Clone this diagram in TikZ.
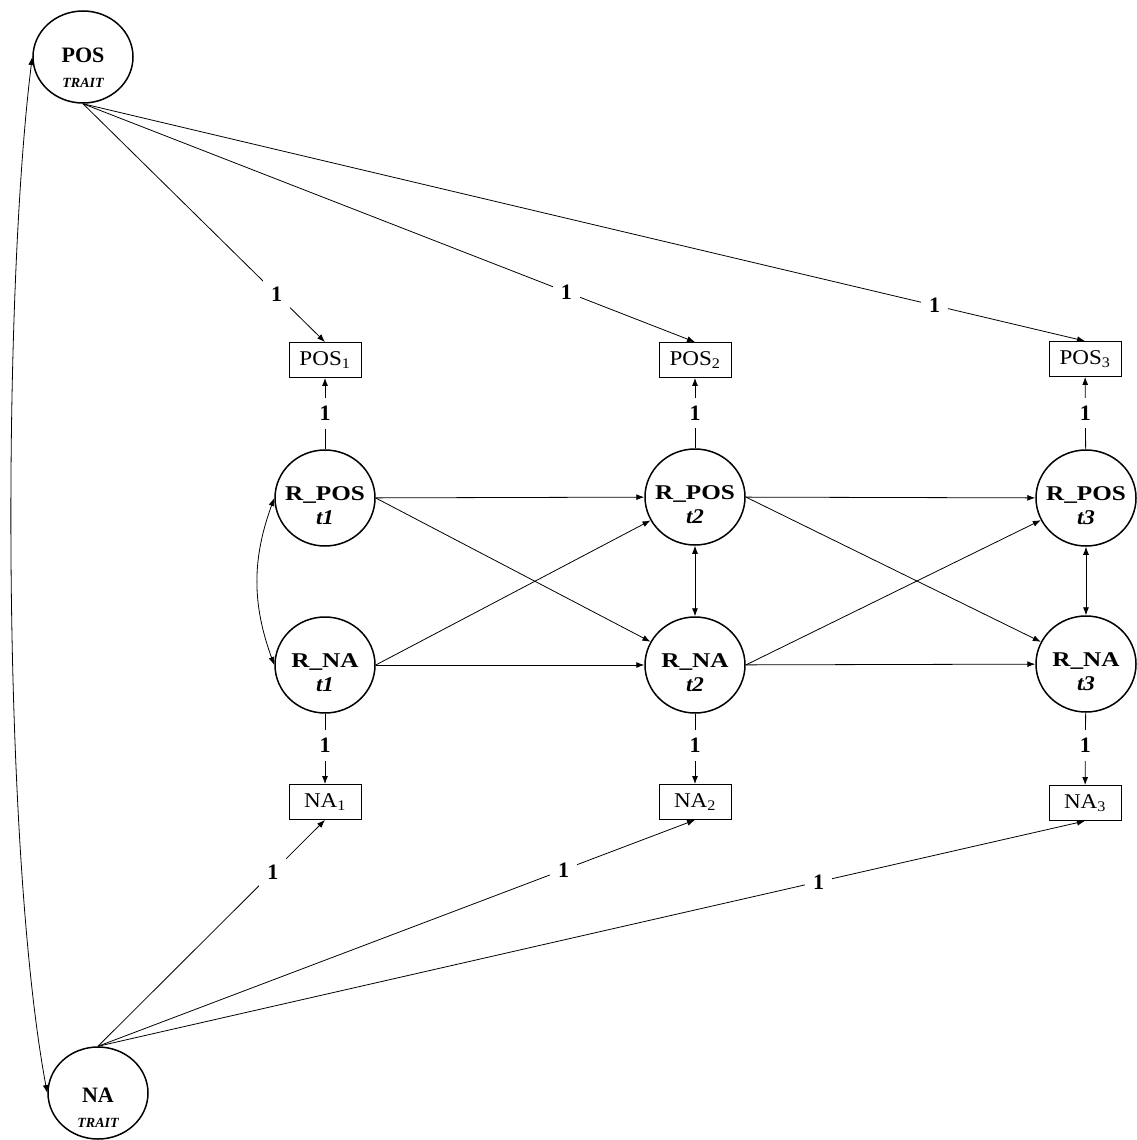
\documentclass[tikz,border=0pt]{standalone}
\usepackage{fontspec}
\usepackage{graphicx}
\setmainfont{Liberation Serif}
\usetikzlibrary{arrows.meta,shapes.geometric}
\newcommand{\latxt}[2]{\rule{0pt}{29pt}\scalebox{1.2}[1]{\textbf{#1}}\\[-1pt]\scalebox{1.1}[1]{\textbf{\textit{#2}}}}
\newcommand{\obtxt}[2]{\scalebox{1.1}[1]{#1\textsubscript{#2}}}
\begin{document}
\begin{tikzpicture}[x=1pt,y=-1pt,
  lat/.style={ellipse, draw, line width=1.5pt, minimum width=100pt, minimum height=96pt, inner sep=-10pt, align=center, font=\fontsize{21}{25}\selectfont},
  trait/.style={ellipse, draw, line width=1.5pt, minimum width=100pt, minimum height=92pt},
  bigtxt/.style={anchor=base, inner sep=0pt, font=\fontsize{22}{26}\selectfont\bfseries},
  smalltxt/.style={anchor=base, inner sep=0pt, font=\fontsize{14}{16}\selectfont\bfseries\itshape},
  obs/.style={rectangle, draw, line width=0.9pt, minimum width=72pt, minimum height=35pt, inner sep=0pt, font=\fontsize{21}{24}\selectfont},
  arr/.style={line width=0.8pt, -{Latex[length=8pt,width=6pt]}},
  bidir/.style={line width=0.8pt, {Latex[length=8pt,width=6pt]}-{Latex[length=8pt,width=6pt]}},
  one/.style={fill=white, inner sep=8pt, font=\fontsize{22}{24}\selectfont\bfseries},
]
\useasboundingbox (0,0) rectangle (1137,1140);

% trait factors
\node[trait] (post) at (83,57) {};
\node[bigtxt] (postA) at (83,63) {POS};
\node[smalltxt] (postB) at (83,87) {TRAIT};
\node[trait] (natr) at (98,1093) {};
\node[bigtxt] (natrA) at (98,1102) {NA};
\node[smalltxt] (natrB) at (98,1127) {TRAIT};

% observed
\node[obs] (pos1) at (325,360) {\obtxt{POS}{1}};
\node[obs] (pos2) at (695,360) {\obtxt{POS}{2}};
\node[obs] (pos3) at (1085,359) {\obtxt{POS}{3}};
\node[obs] (na1) at (325,802) {\obtxt{NA}{1}};
\node[obs] (na2) at (695,802) {\obtxt{NA}{2}};
\node[obs] (na3) at (1085,803) {\obtxt{NA}{3}};

% residual latents
\node[lat] (rpos1) at (325,498) {\latxt{R\_POS}{t1}};
\node[lat] (rpos2) at (695,497) {\latxt{R\_POS}{t2}};
\node[lat] (rpos3) at (1086,498) {\latxt{R\_POS}{t3}};
\node[lat] (rna1) at (325,665) {\latxt{R\_NA}{t1}};
\node[lat] (rna2) at (695,665) {\latxt{R\_NA}{t2}};
\node[lat] (rna3) at (1086,664) {\latxt{R\_NA}{t3}};

% trait loadings
\draw[arr] (post.south) -- node[one, pos=0.80] {1} (pos1.north);
\draw[arr] (post.south) -- node[one, pos=0.79] {1} (pos2.north);
\draw[arr] (post.south) -- node[one, pos=0.85] {1} (pos3.north);
\draw[arr] (natr.north) -- node[one, pos=0.77] {1} (na1.south);
\draw[arr] (natr.north) -- node[one, pos=0.78] {1} (na2.south);
\draw[arr] (natr.north) -- node[one, pos=0.73] {1} (na3.south);

% residual loadings
\draw[arr] (rpos1) -- node[one] {1} (pos1);
\draw[arr] (rpos2) -- node[one] {1} (pos2);
\draw[arr] (rpos3) -- node[one] {1} (pos3);
\draw[arr] (rna1) -- node[one, pos=0.45] {1} (na1);
\draw[arr] (rna2) -- node[one, pos=0.45] {1} (na2);
\draw[arr] (rna3) -- node[one, pos=0.45] {1} (na3);

% autoregressive
\draw[arr] (rpos1) -- (rpos2);
\draw[arr] (rpos2) -- (rpos3);
\draw[arr] (rna1) -- (rna2);
\draw[arr] (rna2) -- (rna3);

% cross-lagged
\draw[arr] (rpos1.east) -- (rna2);
\draw[arr] (rna1.east) -- (rpos2);
\draw[arr] (rpos2.east) -- (rna3);
\draw[arr] (rna2.east) -- (rpos3);

% covariances
\draw[bidir] (rpos2) -- (rna2);
\draw[bidir] (rpos3) -- (rna3);
\draw[bidir] (rpos1.west) to[bend right=20] (rna1.west);
\draw[bidir] (post.west) .. controls (2,300) and (2,850) .. (natr.west);
\end{tikzpicture}
\end{document}
